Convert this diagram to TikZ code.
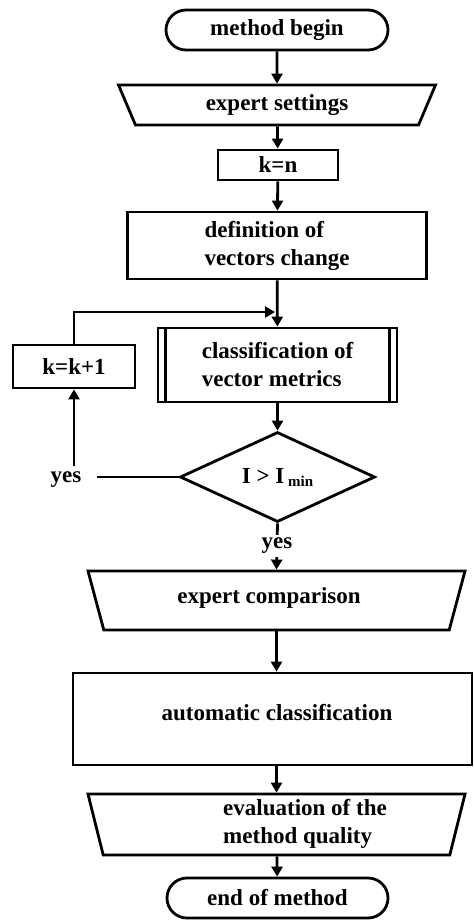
\documentclass[tikz,border=0pt]{standalone}
\usepackage{fontspec}
\setmainfont{Liberation Serif}
\usepackage{tikz}
\tikzset{x=1pt,y=-1pt}
\usetikzlibrary{arrows.meta, calc, shapes.geometric, shapes.misc}
\def\bigf{\bfseries\fontsize{23}{28}\selectfont}
\def\subf{\bfseries\fontsize{15}{15}\selectfont}

\tikzset{
  box/.style={draw, line width=2.8pt, font=\bigf, inner sep=2pt},
  term/.style={box, rounded rectangle, minimum width=226pt, minimum height=40pt},
  io/.style={box, trapezium, shape border rotate=180, trapezium stretches body=true,
    trapezium angle=#1, text height=15pt, text depth=5pt},
  io/.default=67,
  proc/.style={box, rectangle},
  test/.style={box, diamond, inner sep=0pt},
  lbl/.style={font=\bigf, inner sep=3pt},
  arr/.style={line width=2.8pt, -{Triangle[width=11pt,length=10pt]}},
  ln/.style={line width=2.8pt}
}

\begin{document}
\begin{tikzpicture}
    \useasboundingbox (0,0) rectangle (474,924);
    % main column
    \node[term] (begin) at (277,30) {method begin};
    \node[io, minimum width=317pt, inner ysep=10pt] (settings) at (277,105) {expert settings};
    \node[proc, minimum width=120pt, minimum height=30pt] (kn) at (278,165) {k=n};
    \node[proc, minimum width=299pt, minimum height=67pt, align=left] (defn) at (277,245.5)
      {definition of\\vectors change};
    \coordinate (merge) at (277,312);
    \node[proc, minimum width=239pt, minimum height=74pt, align=left] (cls) at (277.5,365)
      {classification of\\vector metrics};
    \draw[ln] ([xshift=9pt]cls.north west) -- ([xshift=9pt]cls.south west);
    \draw[ln] ([xshift=-9pt]cls.north east) -- ([xshift=-9pt]cls.south east);
    \node[test, minimum width=195pt, minimum height=90pt] (dec) at (277.5,477)
      {I > I\,\raisebox{-3pt}{\subf min}};
    \node[lbl] (yesdown) at (277,546) {yes};
    \node[io=75, minimum width=377pt, inner ysep=19.5pt] (cmp) at (276.5,600.5) {};
    \node[lbl] (cmptxt) at (269,598) {expert comparison};
    \node[proc, minimum width=399pt, minimum height=92pt] (auto) at (272.5,719) {};
    \node[lbl] (autotxt) at (277,713) {automatic classification};
    \node[io=76, minimum width=377pt, inner ysep=20.5pt] (eval) at (276.5,824.5) {};
    \node[lbl, align=left] (evaltxt) at (305,824) {evaluation of the\\method quality};
    \node[term, minimum width=225pt] (end) at (277.5,898) {end of method};
    % loop back
    \node[proc, minimum width=122pt, minimum height=43pt] (kk) at (74,366.5) {k=k+1};
    \node[lbl] (yesleft) at (66,480) {yes};

    \draw[arr] (begin) -- (settings);
    \draw[arr] (settings) -- (kn);
    \draw[arr] (kn) -- (defn);
    \draw[arr] (defn) -- (cls);
    \draw[arr] (kk.north) |- ([xshift=-2pt]merge);
    \draw[arr] (cls) -- (dec);
    \draw[ln] (dec.south) -- (yesdown);
    \draw[arr] (yesdown) -- (cmp.north);
    \draw[arr] (cmp.south) -- (cmp.south |- auto.north);
    \draw[arr] (auto.south -| eval.north) -- (eval.north);
    \draw[arr] (eval) -- (end);
    \draw[ln, shorten <=12pt] (yesleft.east |- dec.west) -- (dec.west);
    \draw[arr, shorten <=3pt] (yesleft.north -| kk.south) -- (kk.south);
\end{tikzpicture}
\end{document}
